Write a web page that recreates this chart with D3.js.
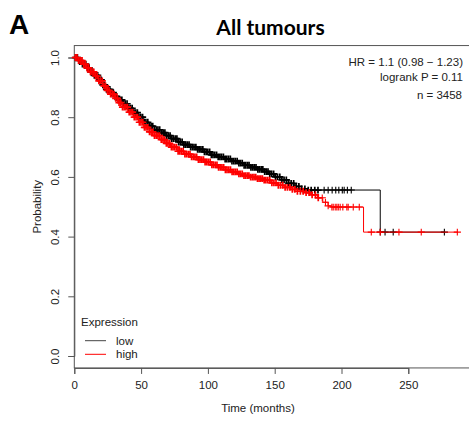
<!DOCTYPE html>
<html>
<head>
<meta charset="utf-8">
<script src="https://cdn.jsdelivr.net/npm/d3@7"></script>
<style>
  html, body { margin: 0; padding: 0; background: #fff; }
  svg { display: block; }
</style>
</head>
<body>
<svg id="chart" width="469" height="421"></svg>
<script>
// ---------- DATA ----------
const panelLabel = "A";
const title = "All tumours";
const xTicks = [0, 50, 100, 150, 200, 250];
const yTicks = [0.0, 0.2, 0.4, 0.6, 0.8, 1.0];
const yTickLabels = ["0.0", "0.2", "0.4", "0.6", "0.8", "1.0"];
const xLabel = "Time (months)";
const yLabel = "Probability";
const statLines = ["HR = 1.1 (0.98 \u2212 1.23)", "logrank P = 0.11"];
const nLine = "n = 3458";
const legendTitle = "Expression";
const groups = ["low", "high"];

// Kaplan-Meier step points (time in months, survival probability)
const lowTime = [0, 3, 6, 9, 12, 15, 18, 21, 24, 27, 30, 33, 36, 40, 44, 48, 52, 56, 60, 64, 68, 72, 77, 82, 87, 92, 97, 102, 107, 112, 117, 122, 127, 132, 137, 142, 146, 150, 155, 160, 165, 170, 175, 229];
const lowSurv = [1.0, 0.99, 0.978, 0.965, 0.952, 0.94, 0.925, 0.908, 0.893, 0.882, 0.87, 0.858, 0.845, 0.83, 0.815, 0.80, 0.783, 0.77, 0.758, 0.748, 0.738, 0.728, 0.717, 0.708, 0.700, 0.692, 0.684, 0.674, 0.667, 0.660, 0.653, 0.646, 0.639, 0.632, 0.625, 0.618, 0.610, 0.600, 0.590, 0.578, 0.568, 0.560, 0.556, 0.415];
const lowEnd = 277;

const highTime = [0, 3, 6, 9, 12, 15, 18, 21, 24, 27, 30, 33, 36, 40, 44, 48, 52, 56, 60, 64, 68, 72, 77, 82, 87, 92, 97, 102, 107, 112, 117, 122, 127, 132, 137, 142, 147, 152, 157, 162, 167, 172, 177, 182, 186, 190, 192, 216.5];
const highSurv = [1.0, 0.99, 0.978, 0.965, 0.952, 0.938, 0.922, 0.905, 0.89, 0.877, 0.863, 0.849, 0.834, 0.817, 0.80, 0.783, 0.766, 0.751, 0.738, 0.725, 0.712, 0.700, 0.686, 0.676, 0.667, 0.658, 0.650, 0.640, 0.632, 0.624, 0.617, 0.610, 0.604, 0.599, 0.594, 0.589, 0.580, 0.572, 0.565, 0.558, 0.552, 0.547, 0.540, 0.530, 0.515, 0.503, 0.499, 0.415];
const highEnd = 287;

// censoring times (months)
const lowCensor = [1, 2.3, 3.4, 4.8, 6.1, 7.2, 8.6, 9.9, 11.1, 12.4, 13.8, 15.0, 16.3, 17.5, 18.9, 20.2, 21.4, 22.7, 24.1, 25.3, 26.6, 27.8, 29.2, 30.5, 31.7, 33.0, 34.4, 35.6, 36.9, 38.1, 39.5, 40.8, 42.0, 43.3, 44.7, 45.9, 47.2, 48.4, 49.8, 51.1, 52.3, 53.6, 55.0, 56.2, 57.5, 58.7, 60.1, 61.4, 62.6, 63.9, 65.3, 66.5, 67.8, 69.0, 70.4, 71.7, 72.9, 74.2, 75.6, 76.8, 78.1, 79.3, 80.7, 82.0, 83.2, 84.5, 85.9, 87.1, 88.4, 89.6, 91.0, 92.3, 93.5, 94.8, 96.2, 97.4, 98.7, 99.9, 101.3, 102.6, 103.8, 105.1, 106.5, 107.7, 109.0, 110.2, 111.6, 112.9, 114.1, 115.4, 116.8, 118.0, 119.3, 120.5, 121.9, 123.2, 124.4, 125.7, 127.1, 128.3, 129.6, 130.8, 132.2, 133.5, 134.7, 136.0, 137.4, 138.6, 139.9, 141.1, 142.5, 143.8, 145.0, 146.3, 147.7, 149.2, 150.6, 152.1, 153.8, 155.4, 157.0, 158.7, 160.5, 162.3, 164.2, 166.0, 168.1, 170.2, 172.6, 175.1, 177.3, 180.0, 182.4, 187, 190, 193, 195.7, 198, 200.6, 202, 204.4, 207.3, 229, 232.6, 238.7, 277];
const highCensor = [0.8, 2.0, 3.2, 4.5, 5.8, 7.0, 8.3, 9.5, 10.8, 12.1, 13.3, 14.6, 15.9, 17.1, 18.4, 19.6, 20.9, 22.2, 23.4, 24.7, 26.0, 27.2, 28.5, 29.7, 31.0, 32.3, 33.5, 34.8, 36.1, 37.3, 38.6, 39.8, 41.1, 42.4, 43.6, 44.9, 46.2, 47.4, 48.7, 49.9, 51.2, 52.5, 53.7, 55.0, 56.3, 57.5, 58.8, 60.0, 61.3, 62.6, 63.8, 65.1, 66.4, 67.6, 68.9, 70.1, 71.4, 72.7, 73.9, 75.2, 76.5, 77.7, 79.0, 80.2, 81.5, 82.8, 84.0, 85.3, 86.6, 87.8, 89.1, 90.3, 91.6, 92.9, 94.1, 95.4, 96.7, 97.9, 99.2, 100.4, 101.7, 103.0, 104.2, 105.5, 106.8, 108.0, 109.3, 110.5, 111.8, 113.1, 114.3, 115.6, 116.9, 118.1, 119.4, 120.6, 121.9, 123.2, 124.4, 125.7, 127.0, 128.2, 129.5, 130.7, 132.0, 133.3, 134.5, 135.8, 137.1, 138.3, 139.6, 140.8, 142.1, 143.4, 144.8, 146.3, 147.9, 149.4, 151.0, 152.7, 154.3, 156.0, 157.8, 159.5, 161.4, 163.2, 165.1, 167.0, 169.2, 171.3, 173.5, 175.8, 178.0, 180.5, 182.6, 185.6, 188, 190, 192.8, 193.8, 195.3, 196.5, 197.6, 199, 201, 204, 205, 208.8, 213.3, 222.3, 229, 243, 259.7, 286.7];

// ---------- LAYOUT ----------
const svg = d3.select("#chart");
const x = d3.scaleLinear().domain([0, 250]).range([74.3, 408.3]);
const y = d3.scaleLinear().domain([0, 1]).range([356, 57.5]);
const boxTop = y(1.04), boxBottom = y(-0.04), boxLeft = x(0), boxRight = 480;
const axisColor = "#555";
const textColor = "#222";
const sans = "'Liberation Sans', Arial, sans-serif";

svg.append("rect").attr("width", 469).attr("height", 421).attr("fill", "#fff");

// panel label & title
svg.append("text").attr("x", 9).attr("y", 34)
  .attr("font-family", sans).attr("font-weight", "bold").attr("font-size", 28)
  .attr("fill", "#000").text(panelLabel);
svg.append("text").attr("x", 270.5).attr("y", 35).attr("text-anchor", "middle")
  .attr("font-family", "Lato, 'Open Sans', sans-serif").attr("font-weight", "bold").attr("font-size", 21)
  .attr("fill", "#000").text(title);

// box
svg.append("rect").attr("x", boxLeft).attr("y", boxTop)
  .attr("width", boxRight - boxLeft).attr("height", boxBottom - boxTop)
  .attr("fill", "none").attr("stroke", axisColor).attr("stroke-width", 1);

// x axis
const xAxis = d3.axisBottom(x).tickValues(xTicks).tickSize(6).tickPadding(7).tickFormat(d3.format("d"));
const gx = svg.append("g").attr("transform", `translate(0,${boxBottom})`).call(xAxis);
gx.select(".domain").attr("stroke", axisColor);
gx.selectAll(".tick line").attr("stroke", axisColor);
gx.selectAll(".tick text").attr("font-family", sans).attr("font-size", 11.5).attr("fill", textColor);

// y axis
const yAxis = d3.axisLeft(y).tickValues(yTicks).tickSize(6).tickFormat((d, i) => yTickLabels[i]);
const gy = svg.append("g").attr("transform", `translate(${boxLeft},0)`).call(yAxis);
gy.select(".domain").attr("stroke", axisColor);
gy.selectAll(".tick line").attr("stroke", axisColor);
gy.selectAll(".tick text")
  .attr("x", 0).attr("dy", null).attr("y", 0)
  .attr("transform", "translate(-15,0) rotate(-90)")
  .attr("text-anchor", "middle")
  .attr("font-family", sans).attr("font-size", 11.5).attr("fill", textColor);

// axis titles
svg.append("text").attr("x", 258).attr("y", 412).attr("text-anchor", "middle")
  .attr("font-family", sans).attr("font-size", 11.5).attr("fill", textColor).text(xLabel);
svg.append("text").attr("transform", `translate(41,${(y(0) + y(1)) / 2}) rotate(-90)`)
  .attr("text-anchor", "middle")
  .attr("font-family", sans).attr("font-size", 11.5).attr("fill", textColor).text(yLabel);

// ---------- CURVES ----------
function makeSeries(times, survs, end) {
  const pts = times.map((t, i) => [t, survs[i]]);
  pts.push([end, survs[survs.length - 1]]);
  return pts;
}
const bis = d3.bisector(d => d[0]).right;
function survAt(pts, t) {
  const i = bis(pts, t) - 1;
  return pts[Math.max(0, i)][1];
}
const line = d3.line().x(d => x(d[0])).y(d => y(d[1])).curve(d3.curveStepAfter);

const series = [
  { name: "low", pts: makeSeries(lowTime, lowSurv, lowEnd), cens: lowCensor, color: "#000" },
  { name: "high", pts: makeSeries(highTime, highSurv, highEnd), cens: highCensor, color: "#ff0000" }
];

series.forEach(s => {
  const g = svg.append("g");
  g.append("path").attr("d", line(s.pts)).attr("fill", "none")
    .attr("stroke", s.color).attr("stroke-width", 1);
  g.selectAll("path.cm").data(s.cens).enter().append("path")
    .attr("class", "cm")
    .attr("d", t => {
      const cx = x(t), cy = y(survAt(s.pts, t));
      return `M${cx - 3.6},${cy}H${cx + 3.6}M${cx},${cy - 3.4}V${cy + 3.4}`;
    })
    .attr("stroke", s.color).attr("stroke-width", t => t < 185 ? 1.7 : 1.1).attr("fill", "none");
});

// ---------- ANNOTATIONS ----------
statLines.forEach((txt, i) => {
  svg.append("text").attr("x", 463).attr("y", 66 + i * 14.5).attr("text-anchor", "end")
    .attr("font-family", sans).attr("font-size", 11.5).attr("fill", textColor).text(txt);
});
svg.append("text").attr("x", 462).attr("y", 99).attr("text-anchor", "end")
  .attr("font-family", sans).attr("font-size", 11.5).attr("fill", textColor).text(nLine);

// legend
svg.append("text").attr("x", 81).attr("y", 326)
  .attr("font-family", sans).attr("font-size", 11.5).attr("fill", textColor).text(legendTitle);
groups.forEach((gname, i) => {
  const ly = 340.7 + i * 13.6;
  svg.append("line").attr("x1", 85).attr("x2", 106).attr("y1", ly).attr("y2", ly)
    .attr("stroke", series[i].color === "#000" ? "#444" : "#ff0000").attr("stroke-width", 1);
  svg.append("text").attr("x", 116).attr("y", ly + 4)
    .attr("font-family", sans).attr("font-size", 11.5).attr("fill", textColor).text(gname);
});
</script>
</body>
</html>
